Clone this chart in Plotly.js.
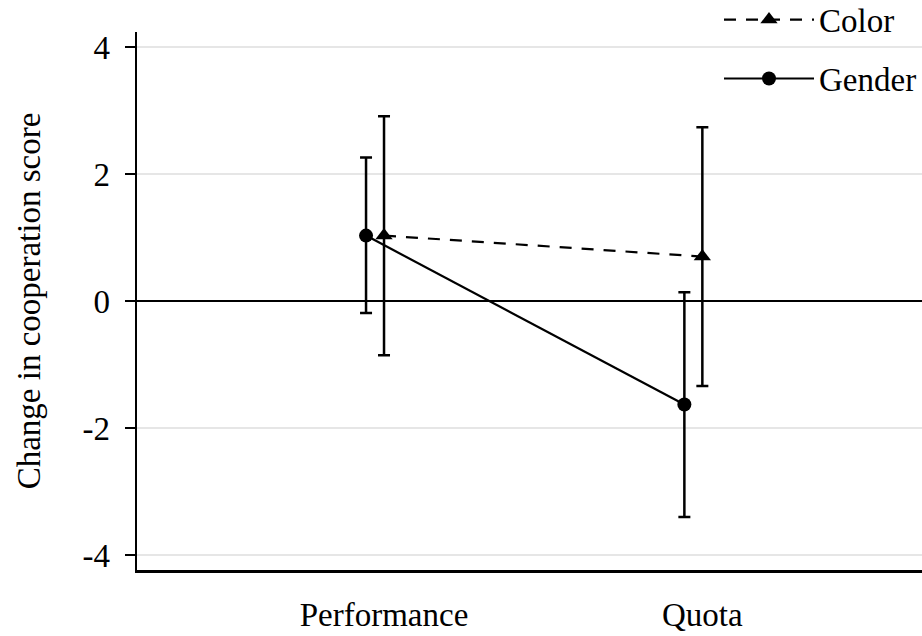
<!DOCTYPE html>
<html>
<head>
<meta charset="utf-8">
<script src="https://cdn.plot.ly/plotly-3.0.1.min.js"></script>
<style>html,body{margin:0;padding:0;background:#fff;}#chart{width:922px;height:636px;}</style>
</head>
<body>
<div id="chart"></div>
<script>
// Data
const categories = ["Performance", "Quota"];
const categoryPos = [1, 2];
const colorMean = [1.03, 0.70];
const colorLower = [-0.855, -1.34];
const colorUpper = [2.91, 2.735];
const genderMean = [1.03, -1.63];
const genderLower = [-0.19, -3.40];
const genderUpper = [2.26, 0.137];
const yTickVals = [-4, -2, 0, 2, 4];
const yTickText = ["-4", "-2", "0", "2", "4"];

const dodge = -0.0565;
const FONT = "'Liberation Serif', 'Times New Roman', serif";

function errs(mean, lo, hi) {
  return {
    type: 'data', symmetric: false,
    array: mean.map((m, i) => hi[i] - m),
    arrayminus: mean.map((m, i) => m - lo[i]),
    color: '#000', thickness: 2.5, width: 6
  };
}

const traces = [
  {
    name: 'Color', legendgroup: 'c',
    x: categoryPos, y: colorMean,
    mode: 'lines+markers', type: 'scatter',
    line: {color: '#000', width: 2.2, dash: '12px,10px'},
    marker: {symbol: 'triangle-up', size: 15, color: '#000'},
    error_y: errs(colorMean, colorLower, colorUpper)
  },
  {
    name: 'Gender', legendgroup: 'g',
    x: categoryPos.map(v => v + dodge), y: genderMean,
    mode: 'lines+markers', type: 'scatter',
    line: {color: '#000', width: 2.2},
    marker: {symbol: 'circle', size: 14, color: '#000'},
    error_y: errs(genderMean, genderLower, genderUpper)
  }
];

const layout = {
  width: 922, height: 636,
  margin: {l: 137, r: 0, t: 32, b: 66, autoexpand: false},
  paper_bgcolor: '#fff', plot_bgcolor: '#fff',
  font: {family: FONT, size: 33, color: '#000'},
  showlegend: true,
  legend: {
    x: 1, xanchor: 'right', y: 1.075, yanchor: 'top',
    bgcolor: 'rgba(0,0,0,0)', font: {family: FONT, size: 33, color: '#000'},
    tracegroupgap: 13, itemwidth: 90
  },
  xaxis: {
    range: [0.224, 2.69],
    tickmode: 'array', tickvals: categoryPos, ticktext: categories,
    ticks: '', showgrid: false, zeroline: false,
    showline: true, linecolor: '#000', linewidth: 2.5,
    ticklabelstandoff: 14,
    tickfont: {family: FONT, size: 33, color: '#000'}
  },
  yaxis: {
    range: [-4.236, 4.236],
    tickmode: 'array', tickvals: yTickVals, ticktext: yTickText,
    ticks: 'outside', ticklen: 10, tickwidth: 1.5, tickcolor: '#000',
    showgrid: true, gridcolor: '#e6e6e6', gridwidth: 1.5,
    zeroline: true, zerolinecolor: '#000', zerolinewidth: 1.5,
    showline: true, linecolor: '#000', linewidth: 2.5,
    ticklabelstandoff: 8,
    tickfont: {family: FONT, size: 33, color: '#000'},
    title: {text: 'Change in cooperation score', font: {family: FONT, size: 33, color: '#000'}, standoff: 32}
  }
};

Plotly.newPlot('chart', traces, layout, {displayModeBar: false, staticPlot: true});
</script>
</body>
</html>
